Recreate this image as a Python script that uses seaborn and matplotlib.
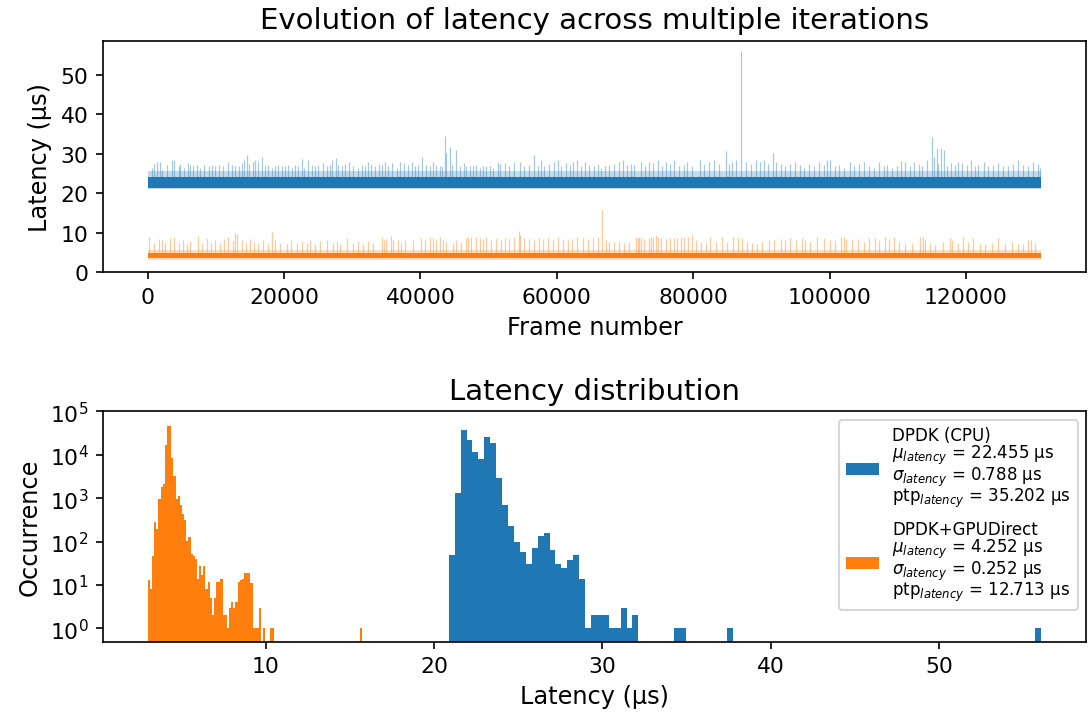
import numpy as np
import pandas as pd
import matplotlib
matplotlib.use("Agg")
import matplotlib.pyplot as plt
from matplotlib.patches import Patch
from matplotlib.ticker import NullLocator
import seaborn as sns

# ---------------------------------------------------------------- data
N_FRAMES = 131072
series_names = ["DPDK (CPU)", "DPDK+GPUDirect"]
series_colors = ["#1f77b4", "#ff7f0e"]

# summary statistics (µs)
cpu_mean, cpu_std, cpu_ptp, cpu_min = 22.455, 0.788, 35.202, 20.875
gpu_mean, gpu_std, gpu_ptp, gpu_min = 4.252, 0.252, 12.713, 2.99

# dense core of each latency trace and its lighter fringe (low, high), µs
cpu_core = [21.4, 24.1]
cpu_fringe = [21.0, 25.6]
gpu_core = [3.6, 4.8]
gpu_fringe = [3.1, 5.7]

# isolated latency spikes: frame number and peak latency (µs)
cpu_spike_frames = [
    640, 880, 1370, 1860, 2100, 2830, 3570, 3810, 4540, 4780, 5270, 5860, 6250, 6640, 7220, 7710, 8200, 8930, 9420, 9910,
    10390, 11030, 11710, 12340, 12830, 13320, 13810, 14150, 14590, 14930, 15510, 15760, 16250, 16830, 17220, 17710, 18200, 18680, 19170, 19660,
    20150, 20640, 21120, 21610, 22100, 22590, 22980, 23560, 24050, 24540, 25020, 25750, 26240, 26730, 27070, 27560, 27950, 28440, 28930, 29560,
    30150, 30880, 31360, 31850, 32240, 32680, 33320, 33950, 34290, 34780, 35270, 35900, 36490, 36970, 37560, 38190, 38780, 39170, 39650, 40240,
    40780, 41360, 41850, 42340, 42830, 43220, 43610, 43800, 44290, 44680, 45260, 45750, 46340, 46730, 47210, 47700, 48190, 48680, 49170, 49650,
    50140, 50630, 51360,
    51600, 52330, 53060, 53790, 54530, 55260, 55990, 56620, 57210, 57700, 58180, 58920, 59650, 60130, 60620, 61350, 61940, 62430, 63010, 63550,
    64180, 64770, 65400, 65990, 66470, 67110, 67690, 68430, 69060, 69640, 70230, 70860, 71350, 72330, 72960, 73550, 74130, 74770, 75500, 75990,
    76570, 77200, 77940, 78670, 79160, 79890, 80960, 81590, 82330, 83060, 83790, 84760, 85250, 85740, 86230, 87060, 87690, 88420, 89150, 89740,
    90370, 91010, 91690, 92180, 92810, 93540, 94130, 94910,
    95730, 96220, 96950, 97680, 98420, 99150, 99640, 100120, 100760, 101340, 102070, 103050, 103540, 104270, 105000, 105730, 106460, 107190, 107930, 108410,
    109150, 109880, 110510, 111100, 111830, 112320, 113050, 113630, 114270, 115000, 115390, 115730, 115970, 116360, 116800, 117190, 117830, 118410, 118900, 119480,
    120120, 120750, 121340, 121830, 122650, 123290, 124020, 124750, 125480, 126210, 126950, 127680, 128410, 129140, 129870, 130510, 130850,
]
cpu_spike_values = [
    26.4, 27.5, 27.8, 28.0, 25.9, 27.2, 28.3, 28.5, 26.8, 27.5, 26.4, 27.6, 27.2, 26.8, 27.1, 26.4, 27.2, 26.8, 27.1, 26.8,
    27.2, 26.8, 28.0, 27.2, 26.8, 26.8, 27.6, 28.3, 29.8, 27.5, 28.0, 28.3, 28.0, 29.1, 26.8, 27.2, 26.4, 26.9, 27.1, 26.8,
    26.8, 27.2, 26.4, 27.1, 26.8, 28.7, 26.4, 28.3, 27.2, 26.8, 27.2, 27.6, 26.8, 27.1, 28.5, 28.8, 27.2, 26.8, 27.5, 28.0,
    26.8, 26.4, 27.2, 26.8, 27.8, 27.1, 26.8, 27.5, 27.2, 28.0, 26.8, 27.6, 26.4, 27.8, 27.6, 27.1, 28.0, 26.8, 27.2, 29.2,
    27.1, 26.8, 28.0, 27.2, 26.8, 26.8, 34.6, 30.2, 31.7, 27.2, 30.9, 26.8, 27.6, 26.8, 27.0, 26.8, 27.2, 26.4, 26.8, 26.8,
    26.9, 26.4, 27.8,
    27.5, 27.6, 26.8, 27.8, 28.0, 26.8, 27.2, 29.7, 26.8, 28.3, 26.9, 27.5, 28.0, 28.3, 26.8, 27.6, 27.2, 27.8, 28.3, 26.8,
    27.8, 27.2, 26.8, 27.5, 26.4, 26.9, 27.1, 27.5, 27.8, 28.3, 27.2, 27.5, 27.1, 28.0, 26.9, 28.0, 27.6, 28.3, 26.9, 27.8,
    27.5, 28.5, 26.8, 27.2, 27.8, 26.9, 28.3, 27.5, 28.0, 28.3, 27.5, 30.8, 27.5, 27.8, 28.5, 56.08, 28.0, 27.5, 28.3, 28.0,
    28.5, 27.5, 30.1, 28.0, 27.5, 26.9, 27.5, 28.0,
    27.2, 26.4, 27.5, 26.8, 27.8, 27.2, 28.3, 28.5, 26.8, 27.2, 26.4, 28.0, 26.8, 27.5, 28.0, 26.8, 26.4, 28.0, 26.8, 27.1,
    26.4, 26.9, 28.1, 28.0, 26.8, 27.8, 27.5, 26.8, 28.3, 34.2, 29.2, 31.4, 27.5, 31.4, 31.0, 26.8, 27.6, 27.1, 28.0, 27.6,
    27.1, 28.3, 26.8, 27.1, 28.0, 26.8, 27.2, 27.6, 26.8, 26.9, 27.5, 28.3, 27.2, 26.8, 28.0, 27.5, 26.4,
]
gpu_spike_frames = [
    250, 880, 1610, 2100, 2590, 3220, 3910, 4540, 5170, 5760, 6250, 7370, 7950, 8690, 9270, 9910, 10640, 11220, 11710, 12490,
    12830, 13120, 13810, 14440, 15030, 15610, 16250, 16980, 17710, 18290, 18680, 19420, 20390, 21070, 21850, 22590, 23320, 23810, 24540, 25270,
    26240, 27220, 27710, 28190, 29170, 30150, 30880, 31610, 32340, 32970, 34290, 34630, 35020, 35610, 36000, 36730, 37220, 37710, 38920, 40090,
    40630, 41360, 41850, 42340, 42830, 43310, 43800, 44780, 45260, 46000, 46630, 46970, 47460, 48190, 48680, 49170, 49650, 50380, 51120,
    51840, 52330, 53060, 53790, 54430, 54620, 55260, 55990, 56720, 57350, 57940, 58670, 59400, 60130, 60870, 61600, 62230, 62910, 63790, 64520,
    65260, 66080, 66570, 67210, 67690, 68430, 69160, 69890, 70620, 71600, 71840, 72080, 72330, 72810, 73450, 73840, 74130, 74520, 74910, 75250,
    75990, 76570, 77200, 77690, 78180, 78670, 79300, 79790, 80370, 81110, 81840, 82470, 83300, 84180, 85010, 85890, 86620, 87200, 87930, 88670,
    89400, 90130, 91100, 91840, 92810, 93540, 94270, 95010,
    95980, 96460, 97200, 98170, 99150, 100120, 100760, 101730, 102070, 102420, 103290, 104170, 105000, 105730, 106710, 107190, 108170, 108660, 109390, 110120,
    111100, 112070, 113290, 113780, 114020, 114750, 115490, 116700, 117680, 117930, 118900, 119630, 120360, 121090, 122070, 122800, 123780, 124750, 125730, 126700,
    127680, 128410, 129140, 129480, 130120,
]
gpu_spike_values = [
    8.8, 7.3, 8.3, 8.1, 7.3, 8.6, 8.8, 7.3, 8.1, 7.1, 7.9, 9.2, 7.3, 8.6, 7.3, 8.1, 7.3, 8.3, 9.0, 7.9,
    9.8, 9.7, 8.1, 7.3, 8.3, 7.7, 7.3, 8.1, 7.1, 10.1, 8.1, 7.3, 7.1, 8.1, 7.3, 7.9, 7.3, 8.1, 7.1, 7.9,
    8.1, 7.3, 7.9, 7.1, 8.6, 7.3, 7.9, 7.1, 7.9, 7.3, 8.8, 8.1, 8.3, 9.2, 8.1, 8.1, 7.3, 8.1, 8.1, 8.6,
    8.1, 9.0, 8.6, 8.1, 9.0, 8.3, 7.7, 7.3, 8.1, 7.7, 8.6, 9.0, 8.8, 9.0, 8.6, 8.3, 9.0, 8.1, 8.6,
    8.1, 8.6, 8.3, 8.8, 10.3, 9.4, 8.6, 8.3, 8.1, 8.5, 8.3, 8.6, 8.1, 8.8, 8.3, 8.1, 8.3, 8.8, 8.5, 8.3,
    8.7, 9.0, 15.70, 8.1, 7.7, 7.7, 7.7, 7.3, 7.5, 8.8, 8.6, 8.8, 8.5, 8.3, 8.5, 8.8, 9.0, 9.5, 8.8, 8.5,
    8.3, 8.5, 8.7, 8.5, 8.8, 8.8, 9.0, 9.4, 8.1, 7.7, 7.3, 9.0, 7.7, 8.8, 7.7, 8.8, 9.0, 8.7, 7.7, 7.3,
    7.1, 7.7, 8.1, 8.1, 8.3, 8.1, 8.6, 8.1,
    8.6, 8.1, 7.7, 8.8, 8.6, 8.1, 8.1, 9.0, 8.8, 8.3, 8.3, 8.3, 7.7, 8.6, 8.6, 8.1, 9.0, 8.3, 8.8, 7.7,
    7.3, 7.3, 8.8, 9.0, 8.1, 7.3, 6.9, 7.7, 8.7, 8.1, 7.3, 8.8, 7.5, 8.6, 7.1, 7.1, 7.3, 8.6, 7.3, 7.5,
    7.1, 7.1, 8.1, 8.1, 7.3,
]

# latency histograms: 100 equal-width bins spanning each series' range
N_BINS = 100
cpu_counts = [
    50, 1340, 37950, 22400, 11480, 7790, 26240, 18780, 2958, 686,
    234, 96, 58, 30, 72, 133, 154, 64, 30, 25,
    38, 50, 14, 1, 2, 2, 2, 1, 1, 3,
    1, 2, 0, 0, 0, 0, 0, 0, 1, 1,
    0, 0, 0, 0, 0, 0, 0, 1, 0, 0,
] + [0] * 49 + [1]
gpu_counts = [
    13, 8, 46, 279, 190, 975, 1838, 2080, 16600, 46900,
    46900, 8510, 3230, 975, 1104, 686, 442, 311, 104, 129,
    52, 46, 40, 14, 27, 17, 27, 8, 12, 5,
    2, 5, 12, 12, 14, 2, 2, 1, 3, 4,
    3, 4, 12, 13, 14, 19, 19, 19, 11, 1,
    1, 1, 3, 0, 1, 0, 0, 1, 1, 0,
] + [0] * 39 + [1]

# ---------------------------------------------------------------- style
plt.rcParams.update({
    "font.family": ["DejaVu Sans"],
    "axes.titlesize": 14,
    "axes.labelsize": 11.5,
    "xtick.labelsize": 10.5,
    "ytick.labelsize": 10.5,
})

fig = plt.figure(figsize=(7.26, 4.8133), dpi=150)
ax_t = fig.add_axes([0.0946, 0.6219, 0.9027, 0.3206])
ax_h = fig.add_axes([0.0946, 0.1101, 0.9027, 0.3188])

# ---------------------------------------------------------------- latency trace
traces = [
    (cpu_core, cpu_fringe, cpu_spike_frames, cpu_spike_values, series_colors[0]),
    (gpu_core, gpu_fringe, gpu_spike_frames, gpu_spike_values, series_colors[1]),
]
frame_span = [0, N_FRAMES - 1]
for core, fringe, sf, sv, col in traces:
    ax_t.fill_between(frame_span, fringe[0], fringe[1], color=col, alpha=0.25, lw=0)
    ax_t.fill_between(frame_span, core[0], core[1], color=col, alpha=1.0, lw=0)
    ax_t.vlines(sf, core[1], sv, color=col, lw=0.6, alpha=0.4)

span = N_FRAMES - 1
ax_t.set_xlim(-0.05 * span, 1.05 * span)
lat_lo, lat_hi = gpu_min, cpu_min + cpu_ptp
ax_t.set_ylim(lat_lo - 0.05 * (lat_hi - lat_lo), lat_hi + 0.05 * (lat_hi - lat_lo))
ax_t.set_xticks(np.arange(0, 120001, 20000))
ax_t.set_yticks(np.arange(0, 51, 10))
ax_t.ticklabel_format(axis="x", style="plain")
ax_t.set_title("Evolution of latency across multiple iterations")
ax_t.set_xlabel("Frame number")
ax_t.set_ylabel("Latency (µs)")

# ---------------------------------------------------------------- histogram
hist_series = [
    (cpu_min, cpu_ptp, cpu_counts, series_colors[0]),
    (gpu_min, gpu_ptp, gpu_counts, series_colors[1]),
]
for lo, ptp, counts, col in hist_series:
    width = ptp / N_BINS
    centers = lo + width * (np.arange(N_BINS) + 0.5)
    df = pd.DataFrame({"latency": centers, "count": np.asarray(counts, float)})
    sns.histplot(data=df, x="latency", weights="count",
                 bins=N_BINS, binrange=(lo, lo + ptp),
                 color=col, alpha=1.0, linewidth=0, ax=ax_h)

ax_h.set_yscale("log")
ax_h.set_yticks([1e0, 1e1, 1e2, 1e3, 1e4, 1e5])
ax_h.yaxis.set_minor_locator(NullLocator())
ax_h.set_ylim(0.5, 1e5)
ax_h.set_xlim(lat_lo - 0.05 * (lat_hi - lat_lo), lat_hi + 0.05 * (lat_hi - lat_lo))
ax_h.set_xticks([10, 20, 30, 40, 50])
ax_h.set_title("Latency distribution")
ax_h.set_xlabel("Latency (µs)")
ax_h.set_ylabel("Occurrence")

stats = [(cpu_mean, cpu_std, cpu_ptp), (gpu_mean, gpu_std, gpu_ptp)]
handles = []
for name, col, (m, s, p) in zip(series_names, series_colors, stats):
    label = (f"{name}\n"
             f"$\\mu_{{latency}}$ = {m:.3f} µs\n"
             f"$\\sigma_{{latency}}$ = {s:.3f} µs\n"
             f"ptp$_{{latency}}$ = {p:.3f} µs")
    handles.append(Patch(facecolor=col, edgecolor="none", label=label))
leg = ax_h.legend(handles=handles, loc="upper right", fontsize=8, labelspacing=0.65)
for t in leg.get_texts():
    t.set_linespacing(0.9)

fig.savefig("out.png", dpi=150)
